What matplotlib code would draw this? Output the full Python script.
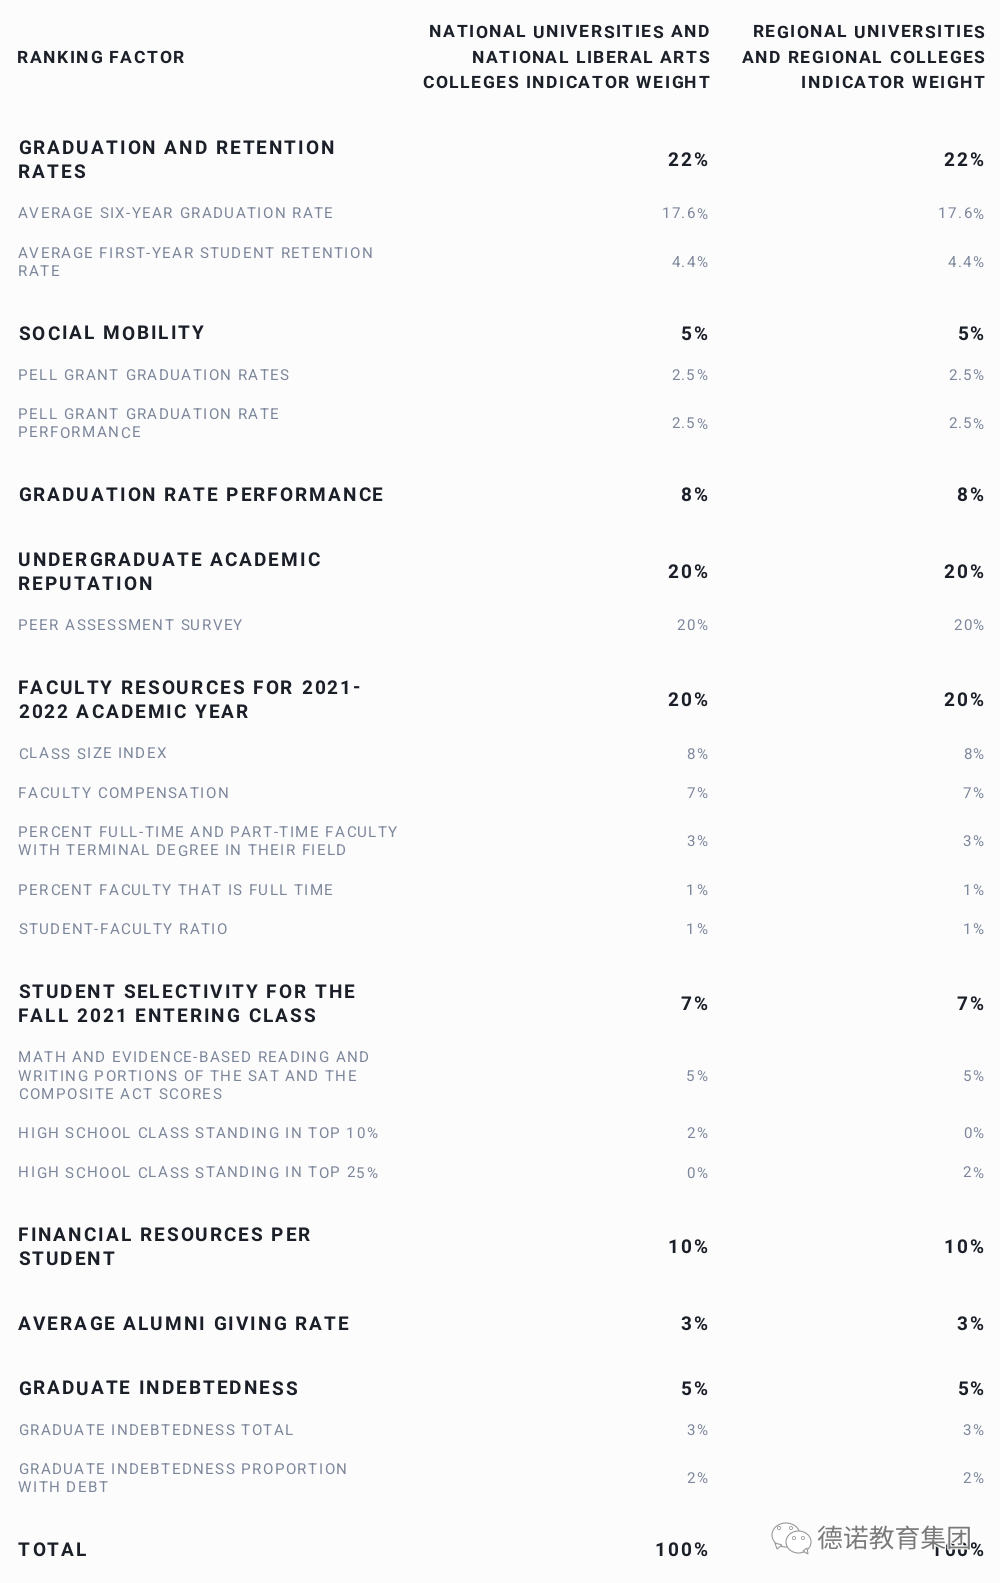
import matplotlib
matplotlib.use('Agg')
import matplotlib.pyplot as plt
from matplotlib.text import Text
from matplotlib.patches import Ellipse, Polygon
import matplotlib.patheffects as pe

plt.rcParams['text.hinting'] = 'no_hinting'

# Table contents
ranking_header = "RANKING FACTOR"
national_header = "NATIONAL UNIVERSITIES AND\nNATIONAL LIBERAL ARTS\nCOLLEGES INDICATOR WEIGHT"
regional_header = "REGIONAL UNIVERSITIES\nAND REGIONAL COLLEGES\nINDICATOR WEIGHT"

factors = [
    "GRADUATION AND RETENTION\nRATES",
    "AVERAGE SIX-YEAR GRADUATION RATE",
    "AVERAGE FIRST-YEAR STUDENT RETENTION\nRATE",
    "SOCIAL MOBILITY",
    "PELL GRANT GRADUATION RATES",
    "PELL GRANT GRADUATION RATE\nPERFORMANCE",
    "GRADUATION RATE PERFORMANCE",
    "UNDERGRADUATE ACADEMIC\nREPUTATION",
    "PEER ASSESSMENT SURVEY",
    "FACULTY RESOURCES FOR 2021-\n2022 ACADEMIC YEAR",
    "CLASS SIZE INDEX",
    "FACULTY COMPENSATION",
    "PERCENT FULL-TIME AND PART-TIME FACULTY\nWITH TERMINAL DEGREE IN THEIR FIELD",
    "PERCENT FACULTY THAT IS FULL TIME",
    "STUDENT-FACULTY RATIO",
    "STUDENT SELECTIVITY FOR THE\nFALL 2021 ENTERING CLASS",
    "MATH AND EVIDENCE-BASED READING AND\nWRITING PORTIONS OF THE SAT AND THE\nCOMPOSITE ACT SCORES",
    "HIGH SCHOOL CLASS STANDING IN TOP 10%",
    "HIGH SCHOOL CLASS STANDING IN TOP 25%",
    "FINANCIAL RESOURCES PER\nSTUDENT",
    "AVERAGE ALUMNI GIVING RATE",
    "GRADUATE INDEBTEDNESS",
    "GRADUATE INDEBTEDNESS TOTAL",
    "GRADUATE INDEBTEDNESS PROPORTION\nWITH DEBT",
    "TOTAL",
]
is_section = [1, 0, 0, 1, 0, 0, 1, 1, 0, 1, 0, 0, 0, 0, 0, 1, 0, 0, 0, 1, 1, 1, 0, 0, 1]
national = ["22%", "17.6%", "4.4%", "5%", "2.5%", "2.5%", "8%", "20%", "20%", "20%", "8%", "7%", "3%",
            "1%", "1%", "7%", "5%", "2%", "0%", "10%", "3%", "5%", "3%", "2%", "100%"]
regional = ["22%", "17.6%", "4.4%", "5%", "2.5%", "2.5%", "8%", "20%", "20%", "20%", "8%", "7%", "3%",
            "1%", "1%", "7%", "5%", "0%", "2%", "10%", "3%", "5%", "3%", "2%", "100%"]
watermark = "德诺教育集团"

BG = '#fcfcfd'
DARK = '#1b1f28'
GRAY = '#7d879b'
FONT = 'Roboto'
S = 1583 / 1568  # layout was measured on the 991px wide view


class TrackedText(Text):
    # Text has no letter spacing in matplotlib, so lay the glyphs out here
    def __init__(self, x, y, s, tracking=0.0, line_h=20.0, **kw):
        super().__init__(x, y, s, **kw)
        self.tracking = tracking
        self.line_h = line_h

    def draw(self, renderer):
        fp = self.get_fontproperties()
        gc = renderer.new_gc()
        gc.set_foreground(self.get_color())
        gc.set_antialiased(True)

        def width(s):
            return renderer.get_text_width_height_descent(s + 'H', fp, False)[0] - \
                renderer.get_text_width_height_descent('H', fp, False)[0]

        cap = renderer.get_text_width_height_descent('H', fp, False)[1]
        lines = self.get_text().split('\n')
        x0, yc = self.get_position()
        for i, line in enumerate(lines):
            total = width(line) + self.tracking * (len(line) - 1)
            left = x0 - total if self.get_ha() == 'right' else x0
            y = yc + (i - (len(lines) - 1) / 2) * self.line_h
            px, py = self.get_transform().transform((left, y))
            py = renderer.height - py + cap / 2
            for j, ch in enumerate(line):
                if ch != ' ':
                    renderer.draw_text(gc, px + width(line[:j]) + self.tracking * j, py, ch, fp, 0)
        gc.restore()


def put(ax, x, y, s, size, weight, color, tracking, line_h=20.0, ha='left'):
    t = TrackedText(x, y, s, tracking=tracking, line_h=line_h, fontsize=size, fontweight=weight,
                    color=color, family=FONT, ha=ha, va='center')
    ax.add_artist(t)
    return t


fig = plt.figure(figsize=(10, 15.83), dpi=100, facecolor=BG)
ax = fig.add_axes([0, 0, 1, 1])
ax.set_xlim(0, 1000)
ax.set_ylim(1583, 0)
ax.axis('off')

# header
put(ax, 17, 56.5, ranking_header, 12.6, 'semibold', DARK, 1.5)
put(ax, 709, 56.5, national_header, 12.6, 'semibold', DARK, 1.5, 25.2, 'right')
put(ax, 984.5, 56.5, regional_header, 12.6, 'semibold', DARK, 1.5, 25.2, 'right')

# rows flow down from the top of the first one
y = 103.5 * S
for name, sec, nat, reg in zip(factors, is_section, national, regional):
    n = name.count('\n') + 1
    if sec:
        y += 20 * S
        h = (24 * n + 20) * S
        size, weight, color, track, lh = 13.7, 'bold', DARK, 2.0, 24.2
        vtrack = 2.0
    else:
        h = (18 * n + 21) * S
        size, weight, color, track, lh = 10.9, 'normal', GRAY, 1.4, 18.2
        vtrack = 1.2
    yc = y + h / 2
    put(ax, 18, yc, name, size, weight, color, track, lh)
    put(ax, 707, yc, nat, size, weight, color, vtrack, ha='right')
    put(ax, 983.5, yc, reg, size, weight, color, vtrack, ha='right')
    y += h

# watermark, sits on top of the last row
wm_edge = '#9a9a9a'
ax.add_patch(Ellipse((786, 1535), 28, 24, fc='white', ec=wm_edge, lw=0.8, zorder=5))
ax.add_patch(Polygon([(775, 1543), (777, 1549), (782, 1545)], fc='white', ec=wm_edge, lw=0.8, zorder=5))
ax.add_patch(Ellipse((798.5, 1542), 25, 22, fc='white', ec=wm_edge, lw=0.8, zorder=6))
ax.add_patch(Polygon([(803, 1551), (808, 1554), (807, 1548)], fc='white', ec=wm_edge, lw=0.8, zorder=6))
for ex, ey, er in [(779, 1528, 1.6), (791, 1528, 1.6), (794, 1538, 1.6), (803, 1538, 1.6)]:
    ax.add_patch(Ellipse((ex, ey), er * 2, er * 2, fc='white', ec=wm_edge, lw=0.6, zorder=7))
ax.text(817, 1540, watermark, fontsize=18.6, color='#7a7a7a', family=['Noto Sans CJK SC', 'DejaVu Sans'],
        va='center', ha='left', zorder=8,
        path_effects=[pe.withStroke(linewidth=1.6, foreground='white')])

fig.savefig('out.png', dpi=100, facecolor=BG)
plt.close(fig)
